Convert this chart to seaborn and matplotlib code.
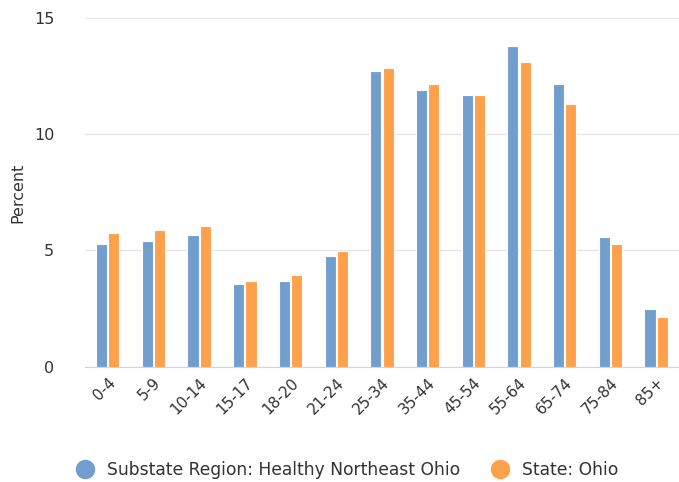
import pandas as pd
import numpy as np
import seaborn as sns
import matplotlib.pyplot as plt
from matplotlib.lines import Line2D

# Datos
age_groups = ['0-4', '5-9', '10-14', '15-17', '18-20', '21-24', '25-34',
              '35-44', '45-54', '55-64', '65-74', '75-84', '85+']
region_vals = [5.29, 5.41, 5.67, 3.57, 3.70, 4.77, 12.72, 11.90, 11.69, 13.79, 12.16, 5.60, 2.49]
ohio_vals = [5.76, 5.89, 6.06, 3.70, 3.95, 4.98, 12.85, 12.16, 11.69, 13.11, 11.30, 5.29, 2.16]
series_names = ['Substate Region: Healthy Northeast Ohio', 'State: Ohio']
colors = ['#729ece', '#ffa04b']

df = pd.DataFrame({
    'Age': age_groups * 2,
    'Percent': region_vals + ohio_vals,
    'Series': [series_names[0]] * len(age_groups) + [series_names[1]] * len(age_groups),
})

sns.set_style('white')
plt.rcParams['font.family'] = ['DejaVu Sans']

fig = plt.figure(figsize=(6.79, 4.82), dpi=100)
ax = fig.add_axes([0.125, 0.239, 0.875, 0.724])

sns.barplot(data=df, x='Age', y='Percent', hue='Series', palette=colors,
            saturation=1, width=0.54, gap=0.1, edgecolor='white', linewidth=0.8,
            legend=False, ax=ax)

ax.set_ylim(0, 15)
ax.set_yticks([0, 5, 10, 15])
ax.set_xlim(-0.5, len(age_groups) - 0.5)
ax.grid(axis='y', color='#e6e6e6', linewidth=1)
ax.set_axisbelow(True)
for s in ['top', 'right', 'left']:
    ax.spines[s].set_visible(False)
ax.spines['bottom'].set_color('#ccd6eb')

ax.tick_params(axis='y', length=0, labelsize=11.5, labelcolor='#333333', pad=22)
ax.tick_params(axis='x', length=0, labelsize=11, labelcolor='#333333', pad=6)
plt.setp(ax.get_xticklabels(), rotation=45, ha='right', rotation_mode='anchor')
ax.set_xlabel('')
ax.set_ylabel('Percent', fontsize=11.5, color='#333333', labelpad=6)

handles = [Line2D([0], [0], marker='o', linestyle='', markersize=13,
                  markerfacecolor=c, markeredgecolor=c) for c in colors]
fig.legend(handles, series_names, loc='center', bbox_to_anchor=(0.505, 0.025),
           ncol=2, frameon=False, fontsize=12.3, handletextpad=0.3,
           columnspacing=1.3, labelcolor='#333333')

plt.savefig('out.png', dpi=100)
